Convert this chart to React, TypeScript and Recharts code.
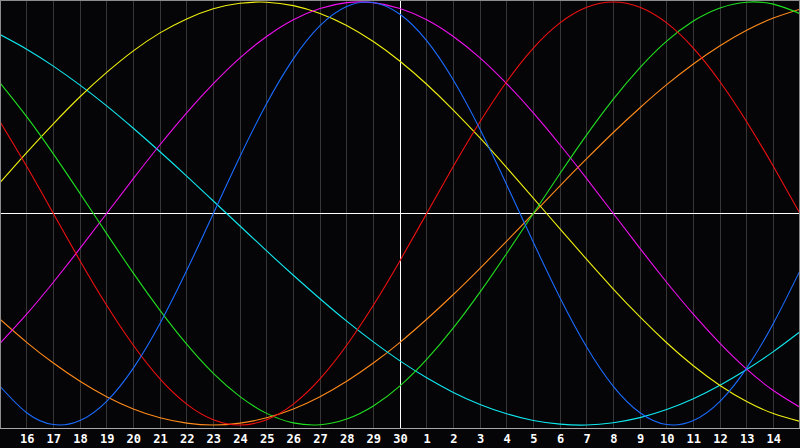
import React from 'react';
import { LineChart, Line, XAxis, YAxis, CartesianGrid, ReferenceLine } from 'recharts';

// day numbers for each sample (first and last are the unlabeled edges)
const dayNums = [15, 16, 17, 18, 19, 20, 21, 22, 23, 24, 25, 26, 27, 28, 29, 30, 1, 2, 3, 4, 5, 6, 7, 8, 9, 10, 11, 12, 13, 14, 15];
const tickLabels = ['16', '17', '18', '19', '20', '21', '22', '23', '24', '25', '26', '27', '28', '29', '30', '1', '2', '3', '4', '5', '6', '7', '8', '9', '10', '11', '12', '13', '14'];

const physical = [-0.817, -0.942, -0.998, -0.979, -0.888, -0.731, -0.52, -0.27, 0, 0.27, 0.52, 0.731, 0.888, 0.979, 0.998, 0.942, 0.817, 0.631, 0.398, 0.136, -0.136, -0.398, -0.631, -0.817, -0.942, -0.998, -0.979, -0.888, -0.731, -0.52, -0.27];
const emotional = [0.434, 0.223, 0, -0.223, -0.434, -0.623, -0.782, -0.901, -0.975, -1, -0.975, -0.901, -0.782, -0.623, -0.434, -0.223, 0, 0.223, 0.434, 0.623, 0.782, 0.901, 0.975, 1, 0.975, 0.901, 0.782, 0.623, 0.434, 0.223, 0];
const intellectual = [0.618, 0.458, 0.282, 0.095, -0.095, -0.282, -0.458, -0.618, -0.756, -0.866, -0.945, -0.99, -0.999, -0.972, -0.91, -0.815, -0.69, -0.541, -0.372, -0.189, 0, 0.189, 0.372, 0.541, 0.69, 0.815, 0.91, 0.972, 0.999, 0.99, 0.945];
const intuitive = [-0.614, -0.476, -0.325, -0.165, 0, 0.165, 0.325, 0.476, 0.614, 0.736, 0.837, 0.916, 0.969, 0.997, 0.997, 0.969, 0.916, 0.837, 0.736, 0.614, 0.476, 0.325, 0.165, 0, -0.165, -0.325, -0.476, -0.614, -0.736, -0.837, -0.916];
const aesthetic = [0.146, 0.288, 0.424, 0.552, 0.667, 0.769, 0.854, 0.92, 0.968, 0.994, 0.999, 0.983, 0.946, 0.889, 0.813, 0.72, 0.611, 0.489, 0.357, 0.217, 0.073, -0.073, -0.217, -0.357, -0.489, -0.611, -0.72, -0.813, -0.889, -0.946, -0.983];
const awareness = [-0.5, -0.609, -0.707, -0.793, -0.866, -0.924, -0.966, -0.991, -1, -0.991, -0.966, -0.924, -0.866, -0.793, -0.707, -0.609, -0.5, -0.383, -0.259, -0.131, 0, 0.131, 0.259, 0.383, 0.5, 0.609, 0.707, 0.793, 0.866, 0.924, 0.966];
const spiritual = [0.846, 0.777, 0.697, 0.607, 0.509, 0.403, 0.292, 0.177, 0.059, -0.059, -0.177, -0.292, -0.403, -0.509, -0.607, -0.697, -0.777, -0.846, -0.903, -0.947, -0.979, -0.996, -1.0, -0.989, -0.965, -0.927, -0.876, -0.812, -0.738, -0.653, -0.559];

const data = dayNums.map((d, i) => ({
  t: i - 1,
  day: d,
  physical: physical[i],
  emotional: emotional[i],
  intellectual: intellectual[i],
  intuitive: intuitive[i],
  aesthetic: aesthetic[i],
  awareness: awareness[i],
  spiritual: spiritual[i],
}));

const tickPositions = tickLabels.map((_, i) => i);

const DayTick = (props: any) => {
  const { x, payload } = props;
  const label = tickLabels[payload.value] ?? '';
  return (
    <text
      x={x + 0.5}
      y={443}
      textAnchor="middle"
      fill="#ffffff"
      fontWeight="bold"
      fontSize={12}
      fontFamily="'DejaVu Sans Mono', monospace"
    >
      {label}
    </text>
  );
};

const series: { key: string; color: string }[] = [
  { key: 'awareness', color: '#ff8a1a' },
  { key: 'spiritual', color: '#10e8f0' },
  { key: 'aesthetic', color: '#f0f010' },
  { key: 'intuitive', color: '#f010f0' },
  { key: 'intellectual', color: '#20e020' },
  { key: 'emotional', color: '#f01010' },
  { key: 'physical', color: '#1a6cff' },
];

export default function App() {
  return (
    <div style={{ position: 'absolute', left: 0, top: 0, width: 800, height: 448, background: '#050507' }}>
      <LineChart width={800} height={448} data={data} margin={{ top: 0, right: 0, bottom: 0, left: 0 }}>
        <CartesianGrid vertical horizontal={false} stroke="#363636" shapeRendering="crispEdges" />
        <XAxis
          dataKey="t"
          type="number"
          domain={[-1, 29]}
          ticks={tickPositions}
          interval={0}
          height={20}
          axisLine={{ stroke: '#a8a8a8', shapeRendering: 'crispEdges' }}
          tickLine={false}
          tick={<DayTick />}
          allowDataOverflow
        />
        <YAxis hide width={0} type="number" domain={[-1.01418, 1.00946]} allowDataOverflow />
        <ReferenceLine y={0} stroke="#ffffff" strokeWidth={1} shapeRendering="crispEdges" />
        <ReferenceLine x={14} stroke="#ffffff" strokeWidth={1} shapeRendering="crispEdges" />
        {series.map((s) => (
          <Line
            key={s.key}
            dataKey={s.key}
            type="natural"
            stroke={s.color}
            strokeWidth={1.1}
            dot={false}
            activeDot={false}
            isAnimationActive={false}
          />
        ))}
      </LineChart>
      <div
        style={{
          position: 'absolute',
          left: 0,
          top: 0,
          width: 800,
          height: 428,
          boxSizing: 'border-box',
          borderTop: '1px solid #8c8c8c',
          borderLeft: '1px solid #8c8c8c',
          borderRight: '1px solid #8c8c8c',
          pointerEvents: 'none',
        }}
      />
    </div>
  );
}
